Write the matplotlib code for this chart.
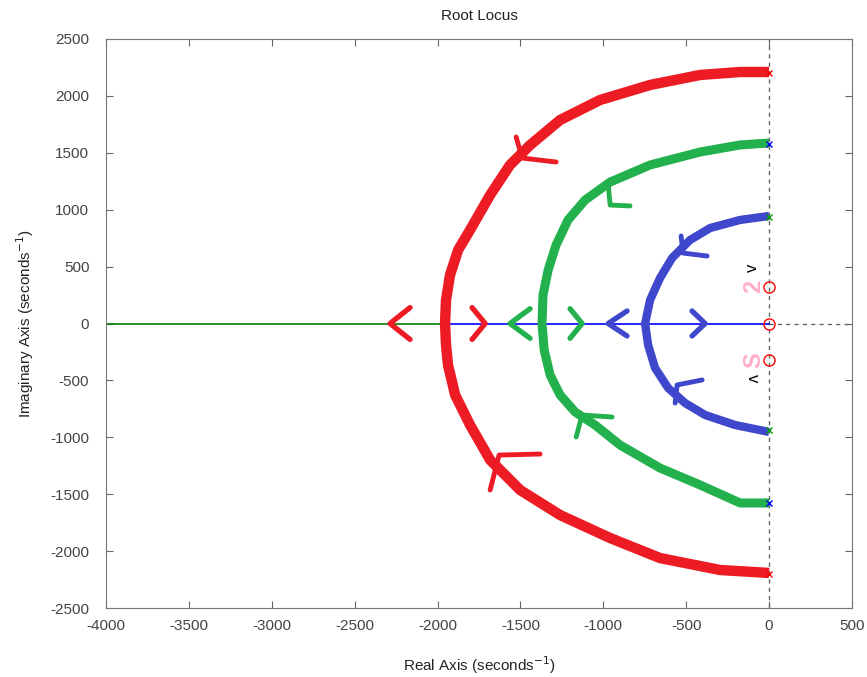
import matplotlib.pyplot as plt

plt.rcParams['font.family'] = ['Liberation Sans', 'DejaVu Sans']
plt.rcParams['axes.unicode_minus'] = False

# ── hand-drawn locus branches (data units) ──
red_x = [0, -175, -416, -718, -1020, -1261, -1442, -1563, -1683, -1804, -1876, -1925,
         -1949, -1955, -1949, -1937, -1894, -1804, -1683, -1502, -1261, -959, -658, -296, 0]
red_y = [2210, 2210, 2184, 2096, 1964, 1788, 1568, 1393, 1129, 822, 646, 426,
         207, 0, -189, -365, -628, -892, -1199, -1463, -1683, -1885, -2061, -2166, -2192]

green_x = [0, -175, -416, -718, -959, -1110, -1213, -1285, -1333, -1364, -1370, -1357,
           -1321, -1261, -1170, -1050, -899, -658, -416, -175, 0]
green_y = [1586, 1569, 1507, 1393, 1243, 1085, 910, 690, 470, 250, 0, -233,
           -453, -628, -778, -892, -1068, -1270, -1419, -1577, -1577]

blue_x = [0, -175, -356, -477, -585, -658, -718, -748, -730, -688, -609, -507, -386, -205, 0]
blue_y = [945, 910, 839, 734, 576, 400, 207, 0, -189, -391, -567, -699, -804, -892, -953]

# arrowheads on the branches: (arm end, tip, arm end)
branch_arrows = {
    "red": [([-1526, -1490, -1285], [1639, 1454, 1419]),
            ([-1683, -1629, -1382], [-1463, -1156, -1147])],
    "green": [([-971, -959, -839], [1226, 1041, 1033]),
              ([-1164, -1128, -947], [-997, -804, -822])],
    "blue": [([-531, -519, -374], [769, 619, 593]),
             ([-567, -555, -404], [-699, -540, -496])],
}

# arrowheads on the real axis: (tip x, arm x, arm half height)
axis_arrows = {
    "red": [(-2287, -2166, 140), (-1713, -1792, 140)],
    "green": [(-1563, -1442, 130), (-1128, -1201, 130)],
    "blue": [(-971, -857, 110), (-386, -465, 110)],
}

# poles / zeros
pole_y = [2200, 1580, 940, -940, -1580, -2200]
pole_colors = ["red", "blue", "green", "green", "blue", "red"]
zero_y = [320, 0, -320]

# real-axis locus segments
green_seg_x = [-4000, -1937]
blue_seg_x = [-1937, 0]

RED = "#ED1C24"
GREEN = "#22B14C"
BLUE = "#3F48CC"
PINK = "#FFAEC9"
paint = {"red": RED, "green": GREEN, "blue": BLUE}
mat = {"red": "#FF0000", "green": "#00A000", "blue": "#0000FF"}

fig = plt.figure(figsize=(8.67, 6.77), dpi=100)
ax = fig.add_axes([0.1223, 0.1019, 0.8604, 0.8405])

# dashed axes lines through the origin
ax.axvline(0, color="0.4", lw=1, ls=(0, (3, 3)), zorder=1)
ax.plot([0, 500], [0, 0], color="0.4", lw=1, ls=(0, (3, 3)), zorder=1)

ax.plot(green_seg_x, [0, 0], color="#008000", lw=1.2, zorder=2)
ax.plot(blue_seg_x, [0, 0], color="#0000FF", lw=1.2, zorder=2)

ax.plot(red_x, red_y, color=RED, lw=7.5, solid_capstyle="butt", solid_joinstyle="round", zorder=3)
ax.plot(green_x, green_y, color=GREEN, lw=6.5, solid_capstyle="butt", solid_joinstyle="round", zorder=3)
ax.plot(blue_x, blue_y, color=BLUE, lw=6, solid_capstyle="butt", solid_joinstyle="round", zorder=3)

for name, arrows in branch_arrows.items():
    for xs, ys in arrows:
        ax.plot(xs, ys, color=paint[name], lw=3.5, solid_capstyle="round",
                solid_joinstyle="round", zorder=4)

for name, arrows in axis_arrows.items():
    for tip, arm, h in arrows:
        ax.plot([arm, tip, arm], [h, 0, -h], color=paint[name], lw=3.8,
                solid_capstyle="round", solid_joinstyle="round", zorder=4)

for y, c in zip(pole_y, pole_colors):
    ax.plot(0, y, marker="x", color=mat[c], ms=5, mew=1, zorder=5)

ax.plot([0] * len(zero_y), zero_y, ls="none", marker="o", mfc="none", mec="#FF0000",
        ms=8, mew=1, zorder=5)

# handwritten notes next to the double zeros
ax.text(-95, 330, "2", color=PINK, fontsize=17, fontweight="bold", rotation=90,
        ha="center", va="center", zorder=4)
ax.text(-95, -320, "S", color=PINK, fontsize=17, fontweight="bold", rotation=90,
        ha="center", va="center", zorder=4)
ax.text(-103, 488, "v", color="black", fontsize=12, rotation=90, ha="center", va="center")
ax.text(-103, -479, "v", color="black", fontsize=12, rotation=-90, ha="center", va="center")

ax.set_xlim(-4000, 500)
ax.set_ylim(-2500, 2500)
ax.set_xticks(range(-4000, 501, 500))
ax.set_yticks(range(-2500, 2501, 500))
ax.tick_params(direction="in", top=True, right=True, length=5, labelsize=11,
               labelcolor="#444444", color="#666666")
ax.tick_params(axis="y", pad=12)
ax.tick_params(axis="x", pad=8)
for s in ax.spines.values():
    s.set_color("#777777")

ax.set_title("Root Locus", fontsize=11, color="#222222", pad=14)
ax.set_xlabel("Real Axis (seconds$^{-1}$)", fontsize=11, color="#222222", labelpad=15)
ax.set_ylabel("Imaginary Axis (seconds$^{-1}$)", fontsize=11, color="#222222", labelpad=10)

fig.savefig("out.png", dpi=100)
